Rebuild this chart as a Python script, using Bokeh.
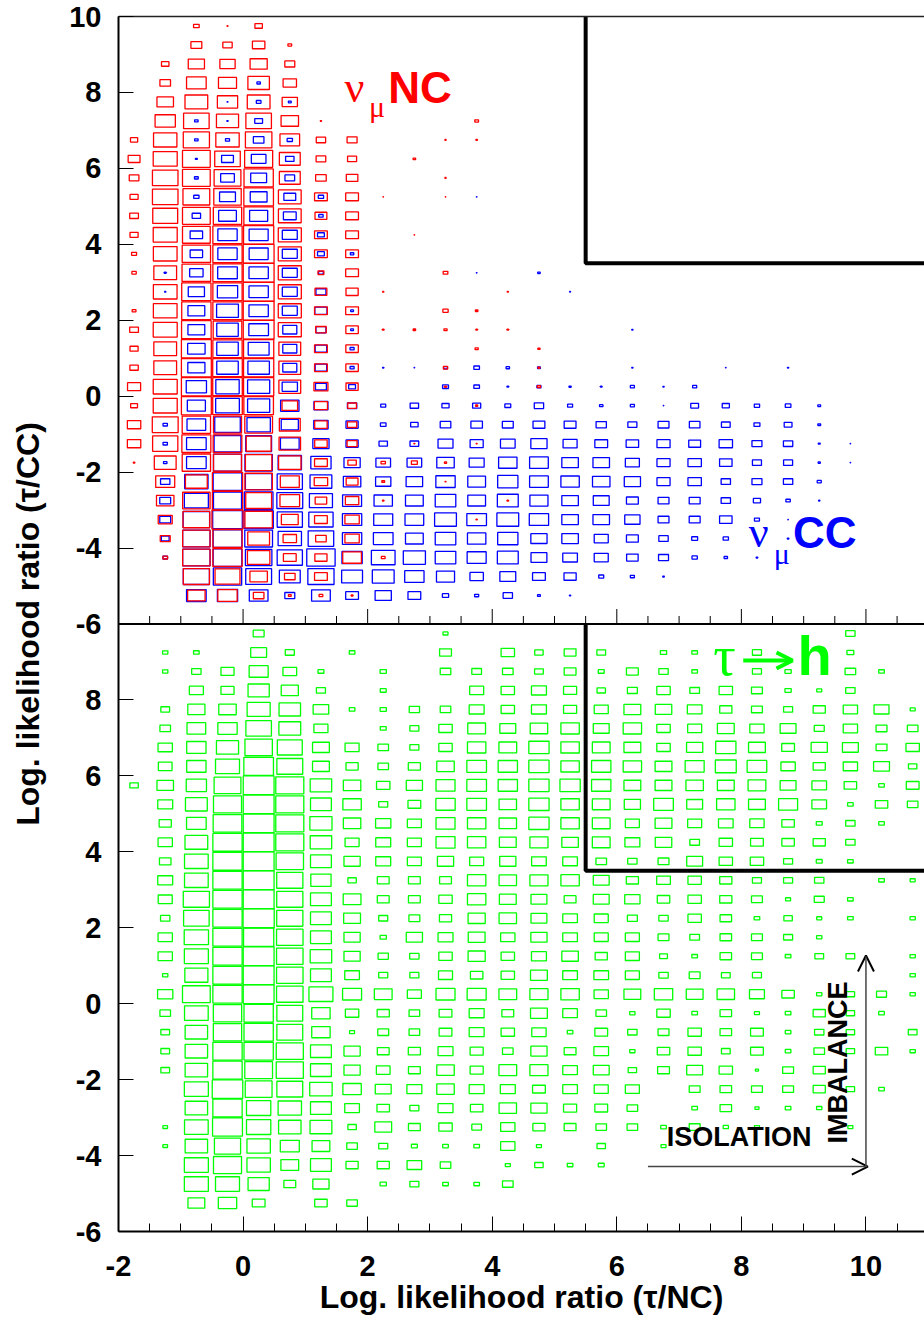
import numpy as np
from bokeh.plotting import figure
from bokeh.models import ColumnDataSource, FixedTicker, LinearAxis, Range1d, Arrow, OpenHead
from bokeh.core.properties import value
from bokeh.embed import file_html
from bokeh.resources import INLINE

# ---- binning of the likelihood-ratio plane ---------------------------------
X_LO, X_HI = -2.0, 10.94
Y_LO, Y_HI = -6.0, 10.0
BIN = 0.5
PANEL_SHIFT = 16.0          # the tau panel sits 16 units below the background panel

X_TICKS = [-2, 0, 2, 4, 6, 8, 10]
Y_TICKS = [10, 8, 6, 4, 2, 0, -2, -4, -6]

# selection corner (tau/NC > 5.5 and tau/CC > 3.5)
CUT_X, CUT_Y = 5.5, 3.5

# bin contents in % of the maximum; rows run from y=9.75 down to y=-5.75,
# columns from x=-1.75 in steps of 0.5 (trailing empty bins omitted)
NUMU_NC = [
    [0, 0, 18, 3, 24],
    [0, 0, 35, 30, 40, 12],
    [0, 24, 52, 49, 55, 32],
    [0, 34, 63, 58, 69, 43],
    [0, 53, 73, 65, 73, 49],
    [0, 65, 82, 71, 82, 56, 4, 0, 0, 0, 0, 12],
    [23, 75, 84, 75, 85, 63, 30, 32, 0, 0, 4, 5],
    [38, 77, 89, 82, 90, 67, 31, 29, 0, 8],
    [31, 82, 89, 86, 94, 67, 34, 37, 0, 0, 4],
    [26, 82, 86, 88, 95, 73, 41, 41, 2, 0, 2],
    [28, 80, 89, 91, 95, 73, 38, 41],
    [26, 77, 89, 94, 97, 74, 41, 41, 0, 2],
    [16, 76, 91, 94, 99, 74, 41, 41],
    [14, 73, 92, 94, 99, 74, 19, 41, 0, 0, 15],
    [0, 76, 94, 94, 99, 74, 38, 39, 4, 0, 0, 0, 4],
    [12, 76, 94, 94, 99, 74, 41, 41, 0, 0, 17, 8],
    [28, 77, 95, 92, 99, 74, 34, 40, 5, 8, 10, 5, 5],
    [26, 73, 96, 94, 97, 70, 41, 40, 0, 0, 0, 10, 0, 7],
    [27, 73, 96, 95, 97, 70, 41, 40, 0, 0, 14, 0, 0, 6],
    [42, 77, 96, 95, 97, 70, 45, 39, 0, 0, 6, 0, 0, 10],
    [22, 77, 96, 95, 95, 50, 42, 28, 0, 0, 0, 7],
    [43, 83, 91, 90, 89, 67, 40, 30],
    [43, 81, 93, 92, 80, 69, 40, 32, 0, 3, 0, 3],
    [5, 70, 91, 90, 85, 72, 41, 27, 14, 19, 7],
    [0, 61, 70, 97, 88, 61, 43, 38, 9, 0, 3],
    [0, 56, 88, 97, 83, 63, 37, 43, 5, 0, 0, 0, 5],
    [0, 45, 86, 100, 88, 54, 41, 46, 0, 0, 0, 4],
    [0, 32, 88, 94, 70, 43, 34, 46],
    [0, 15, 88, 94, 72, 41, 39, 60, 12],
    [0, 0, 84, 80, 56, 34, 41],
    [0, 0, 56, 62, 34, 9, 12, 6],
    [],
]

NUMU_CC = [
    [],
    [],
    [],
    [0, 0, 0, 0, 11],
    [0, 0, 0, 3, 15, 9],
    [0, 0, 11, 4, 25],
    [0, 0, 11, 13, 34, 17],
    [0, 0, 6, 38, 47, 27],
    [0, 0, 12, 44, 51, 31],
    [0, 0, 17, 51, 54, 38, 17, 0, 0, 0, 0, 2],
    [0, 0, 27, 57, 58, 41, 14],
    [0, 0, 40, 62, 61, 48, 22],
    [0, 0, 40, 62, 61, 48, 22, 11],
    [0, 6, 43, 63, 62, 48, 15, 0, 0, 0, 0, 2, 0, 8],
    [0, 4, 52, 65, 62, 48, 32, 0, 0, 0, 0, 0, 0, 0, 3],
    [0, 0, 54, 70, 62, 48, 39, 9],
    [0, 0, 54, 69, 63, 45, 32, 9, 0, 0, 0, 0, 0, 0, 0, 0, 4],
    [0, 0, 56, 69, 67, 45, 37, 13],
    [0, 0, 55, 69, 69, 45, 37, 13, 4, 2, 12, 18, 11, 9, 0, 0, 4, 0, 0, 2, 0, 4],
    [0, 0, 65, 75, 71, 49, 35, 22, 0, 0, 19, 18, 5, 13, 7, 5, 13, 4, 13],
    [0, 0, 58, 76, 71, 59, 45, 30, 16, 27, 23, 26, 19, 30, 16, 11, 13, 2, 25, 23, 17, 18, 9],
    [0, 14, 60, 82, 75, 55, 46, 39, 18, 24, 34, 37, 35, 38, 38, 33, 29, 35, 34, 28, 19, 25, 9],
    [0, 14, 63, 86, 83, 60, 52, 39, 27, 28, 48, 42, 47, 52, 45, 41, 40, 42, 38, 43, 32, 30, 6, 2],
    [0, 11, 63, 90, 88, 75, 65, 52, 47, 47, 56, 48, 59, 60, 53, 53, 45, 42, 43, 40, 29, 29, 7, 2],
    [0, 30, 75, 92, 85, 81, 70, 56, 49, 53, 62, 57, 65, 60, 59, 56, 52, 42, 43, 30, 32, 30, 13],
    [0, 35, 77, 90, 92, 83, 74, 61, 59, 57, 66, 57, 67, 58, 53, 51, 38, 35, 35, 30, 23, 14, 4],
    [0, 35, 85, 95, 94, 81, 78, 62, 61, 60, 70, 63, 70, 62, 53, 53, 49, 35, 35, 40, 16, 2],
    [0, 25, 88, 92, 89, 75, 82, 62, 63, 57, 66, 59, 65, 52, 53, 45, 38, 30, 19, 17, 4, 5],
    [0, 15, 88, 92, 85, 81, 91, 65, 76, 71, 66, 61, 67, 51, 47, 45, 37, 32, 17, 11, 5],
    [0, 0, 84, 91, 83, 67, 84, 67, 70, 62, 58, 43, 51, 41, 39, 16, 13, 5],
    [0, 0, 63, 65, 60, 32, 60, 41, 52, 41, 20, 13, 30, 9, 4],
    [],
]

TAU_H = [
    [0, 0, 0, 0, 35, 0, 0, 0, 0, 0, 16, 0, 0, 0, 0, 0, 0, 0, 0, 0, 0, 0, 0, 30],
    [0, 17, 18, 0, 51, 29, 0, 18, 0, 0, 38, 0, 43, 27, 38, 28, 0, 20, 18, 0, 29, 0, 0, 22],
    [0, 17, 30, 42, 61, 44, 19, 0, 20, 0, 34, 31, 34, 28, 38, 19, 38, 30, 18, 0, 29, 20, 0, 34, 18],
    [0, 0, 45, 42, 68, 55, 29, 0, 19, 0, 0, 45, 43, 48, 42, 27, 32, 43, 31, 43, 35, 20, 16, 30],
    [0, 28, 55, 56, 74, 69, 50, 18, 20, 33, 34, 48, 43, 48, 42, 45, 54, 53, 47, 39, 35, 29, 39, 46, 48, 16],
    [0, 34, 60, 62, 82, 70, 45, 0, 19, 29, 43, 57, 51, 56, 59, 51, 59, 43, 45, 54, 46, 51, 32, 46, 35, 34],
    [0, 46, 62, 71, 88, 80, 54, 45, 34, 29, 43, 59, 57, 65, 59, 57, 54, 43, 52, 65, 54, 41, 52, 51, 35, 43],
    [0, 44, 62, 77, 95, 83, 54, 39, 34, 39, 56, 63, 62, 65, 59, 62, 59, 54, 61, 67, 63, 46, 39, 46, 51, 27],
    [27, 53, 65, 86, 99, 90, 69, 56, 43, 52, 61, 63, 62, 65, 65, 62, 54, 54, 56, 54, 57, 51, 47, 40, 18, 41],
    [0, 48, 70, 90, 99, 90, 67, 59, 29, 41, 62, 63, 56, 65, 59, 57, 52, 63, 51, 59, 54, 61, 47, 18, 40, 34],
    [0, 39, 63, 92, 99, 90, 71, 56, 49, 45, 61, 59, 56, 65, 59, 57, 45, 54, 45, 47, 46, 40, 19, 30, 18],
    [0, 46, 73, 94, 99, 90, 69, 45, 48, 45, 61, 59, 54, 58, 53, 57, 48, 53, 31, 43, 41, 40, 39, 30],
    [0, 37, 76, 94, 99, 88, 67, 52, 48, 45, 52, 45, 52, 47, 47, 34, 30, 35, 51, 43, 43, 29, 19, 18],
    [0, 48, 76, 94, 99, 84, 65, 27, 38, 38, 38, 59, 56, 58, 59, 51, 39, 44, 43, 39, 29, 29, 30, 0, 18, 16],
    [0, 45, 84, 94, 99, 84, 67, 57, 38, 38, 43, 59, 54, 51, 38, 51, 49, 40, 43, 39, 35, 16, 32, 18],
    [0, 30, 82, 94, 100, 84, 67, 54, 29, 35, 39, 55, 56, 51, 47, 45, 32, 30, 43, 37, 18, 27, 16, 18, 0, 17],
    [0, 46, 78, 94, 97, 85, 67, 52, 20, 52, 48, 54, 46, 52, 47, 45, 45, 35, 31, 37, 35, 29, 17],
    [0, 46, 77, 94, 99, 85, 69, 52, 33, 30, 43, 55, 43, 48, 53, 39, 45, 25, 18, 37, 35, 18, 28, 28, 0, 17],
    [0, 17, 74, 94, 99, 85, 67, 47, 29, 29, 45, 40, 43, 54, 47, 47, 45, 30, 35, 28, 29, 0, 0, 0, 0, 17],
    [0, 49, 89, 94, 99, 85, 77, 61, 57, 45, 61, 61, 57, 58, 59, 46, 54, 59, 54, 56, 48, 40, 17, 27, 32, 17],
    [0, 34, 76, 91, 94, 83, 59, 43, 39, 34, 41, 48, 38, 54, 47, 34, 17, 43, 18, 37, 16, 18, 39, 27, 18],
    [0, 28, 72, 91, 94, 83, 59, 16, 35, 34, 41, 48, 43, 46, 18, 41, 30, 35, 43, 37, 41, 18, 30, 27, 0, 28],
    [0, 28, 72, 94, 94, 87, 67, 52, 38, 39, 48, 42, 34, 52, 38, 47, 17, 40, 43, 28, 41, 18, 34, 27, 40, 17],
    [0, 28, 72, 94, 89, 87, 67, 52, 44, 38, 56, 42, 57, 58, 47, 51, 27, 38, 51, 43, 10, 35, 39],
    [0, 0, 77, 98, 86, 83, 72, 59, 51, 48, 56, 48, 48, 41, 47, 45, 45, 0, 35, 37, 35, 35, 39, 27, 18],
    [0, 0, 72, 94, 78, 75, 67, 47, 40, 29, 48, 40, 56, 52, 42, 41, 34, 0, 18, 37, 13, 18, 17],
    [0, 15, 76, 96, 78, 72, 70, 27, 54, 38, 43, 31, 46, 39, 38, 34, 34, 18, 35, 17, 16, 0, 0, 16],
    [0, 15, 72, 84, 75, 61, 57, 34, 29, 19, 18, 18, 46, 16, 0, 27, 0, 16],
    [0, 0, 77, 90, 75, 57, 67, 39, 39, 47, 34, 0, 16, 27, 18, 19],
    [0, 0, 77, 77, 68, 38, 52, 0, 20, 29, 18, 18, 34],
    [0, 0, 54, 59, 41, 0, 40, 34],
    [],
]

RED, BLUE, GREEN = "#ff0000", "#0000ff", "#00ff00"
SANS = "Liberation Sans"
SERIF = "Liberation Serif"

W, H = 924, 1328
B_LEFT, B_TOP, B_BOTTOM = 118, 16, 97
PX_PER_Y = (H - B_TOP - B_BOTTOM) / (2 * (Y_HI - Y_LO))


def box_source(grid, shift):
    """Centres and sizes of the boxes: edge length scales with bin content."""
    xs, ys, ws, hs = [], [], [], []
    for r, row in enumerate(grid):
        for c, v in enumerate(row):
            if v <= 0:
                continue
            xs.append(X_LO + (c + 0.5) * BIN)
            ys.append(Y_HI - (r + 0.5) * BIN - shift)
            ws.append(BIN * v / 100.0)
            hs.append(BIN * v / 100.0)
    return ColumnDataSource(dict(x=xs, y=ys, w=ws, h=hs))


def tick_text(v):
    return "%d" % v   # plain hyphen for negative values


p = figure(width=W, height=H,
           x_range=Range1d(X_LO, X_HI), y_range=Range1d(Y_LO - PANEL_SHIFT, Y_HI),
           output_backend="svg", toolbar_location=None,
           min_border_left=B_LEFT, min_border_right=0,
           min_border_top=B_TOP, min_border_bottom=B_BOTTOM,
           x_axis_label="Log. likelihood ratio (τ/NC)",
           y_axis_label="Log. likelihood ratio (τ/CC)")
p.grid.visible = False
p.outline_line_color = None
p.background_fill_color = "white"
p.border_fill_color = "white"

# ---- axes -----------------------------------------------------------------
minor_x = [float(v) for v in np.arange(X_LO, X_HI, BIN) if v not in X_TICKS]
xa = p.xaxis[0]
xa.ticker = FixedTicker(ticks=X_TICKS, minor_ticks=minor_x)
xa.major_label_overrides = {t: tick_text(t) for t in X_TICKS}

ya = p.yaxis[0]
y_ticks_all = Y_TICKS + [t - PANEL_SHIFT for t in Y_TICKS[1:]]
ya.ticker = FixedTicker(ticks=y_ticks_all)
overrides = {t: tick_text(t) for t in Y_TICKS}
overrides.update({t - PANEL_SHIFT: tick_text(t) for t in Y_TICKS[1:]})
ya.major_label_overrides = overrides
ya.minor_tick_line_color = None

for ax in (xa, ya):
    ax.axis_line_width = 2
    ax.axis_line_color = "black"
    ax.major_tick_in = 15
    ax.major_tick_out = 0
    ax.minor_tick_in = 8
    ax.minor_tick_out = 0
    ax.major_tick_line_color = "black"
    ax.major_tick_line_width = 1
    ax.minor_tick_line_width = 1
    ax.major_label_text_font = SANS
    ax.major_label_text_font_style = "bold"
    ax.major_label_text_font_size = "29px"
    ax.major_label_text_color = "black"
    ax.axis_label_text_font = SANS
    ax.axis_label_text_font_style = "bold"
    ax.axis_label_text_font_size = "32px"
    ax.axis_label_text_color = "black"
ya.major_label_standoff = 17
ya.axis_label_standoff = 20
xa.major_label_standoff = 24
xa.axis_label_standoff = 0

# top frame edge
top = LinearAxis(ticker=FixedTicker(ticks=[]), axis_line_width=1.5,
                 axis_line_color="#222222", major_tick_line_color=None,
                 minor_tick_line_color=None)
p.add_layout(top, "above")

# boundary between the two panels, with the ticks of the upper panel
p.segment(x0=[X_LO], y0=[Y_LO], x1=[X_HI], y1=[Y_LO], line_color="black", line_width=2)
p.segment(x0=X_TICKS, y0=[Y_LO] * len(X_TICKS), x1=X_TICKS,
          y1=[Y_LO + 15 / PX_PER_Y] * len(X_TICKS), line_color="black", line_width=1)
p.segment(x0=minor_x, y0=[Y_LO] * len(minor_x), x1=minor_x,
          y1=[Y_LO + 8 / PX_PER_Y] * len(minor_x), line_color="black", line_width=1)

# ---- box histograms -------------------------------------------------------
for grid, color, shift in ((NUMU_CC, BLUE, 0.0), (NUMU_NC, RED, 0.0), (TAU_H, GREEN, PANEL_SHIFT)):
    p.rect(x="x", y="y", width="w", height="h", source=box_source(grid, shift),
           fill_color=None, line_color=color, line_width=1.3)

# ---- selection corner in both panels ----------------------------------------
for shift in (0.0, PANEL_SHIFT):
    p.line(x=[CUT_X, CUT_X, X_HI], y=[Y_HI - shift, CUT_Y - shift, CUT_Y - shift],
           line_color="black", line_width=4)

# ---- sample labels ----------------------------------------------------------
def label(x, y, txt, color, size, font=SANS, style="bold", angle=0.0):
    p.text(x=[x], y=[y], text=[txt], text_color=color, text_font=value(font),
           text_font_style=style, text_font_size=size, text_align="left",
           text_baseline="alphabetic", angle=angle)

label(1.63, 8.12, "ν", RED, "44px", SERIF, "normal")
label(2.02, 7.63, "μ", RED, "30px", SERIF, "normal")
label(2.33, 8.12, "NC", RED, "44px")

label(8.12, -3.60, "ν", BLUE, "44px", SERIF, "normal")
label(8.52, -4.14, "μ", BLUE, "30px", SERIF, "normal")
label(8.83, -3.60, "CC", BLUE, "44px")

label(7.55, 9.16 - PANEL_SHIFT, "τ", GREEN, "56px", SERIF, "normal")
p.add_layout(Arrow(end=OpenHead(size=16, line_color=GREEN, line_width=4),
                   x_start=8.03, y_start=9.04 - PANEL_SHIFT,
                   x_end=8.82, y_end=9.04 - PANEL_SHIFT,
                   line_color=GREEN, line_width=4))
label(8.90, 9.16 - PANEL_SHIFT, "h", GREEN, "56px")

# ---- discriminating variables -----------------------------------------------
label(6.80, -3.51 - PANEL_SHIFT, "ISOLATION", "black", "27px")
label(9.55, -3.68 - PANEL_SHIFT, "IMBALANCE", "black", "27px", angle=np.pi / 2)
p.add_layout(Arrow(end=OpenHead(size=16, line_color="black", line_width=2),
                   x_start=6.50, y_start=-4.29 - PANEL_SHIFT,
                   x_end=10.03, y_end=-4.29 - PANEL_SHIFT,
                   line_color="#444444", line_width=1.5))
p.add_layout(Arrow(end=OpenHead(size=16, line_color="black", line_width=2),
                   x_start=10.0, y_start=-4.29 - PANEL_SHIFT,
                   x_end=10.0, y_end=1.27 - PANEL_SHIFT,
                   line_color="#444444", line_width=1.5))

open("out.html", "w").write(file_html(p, INLINE))
